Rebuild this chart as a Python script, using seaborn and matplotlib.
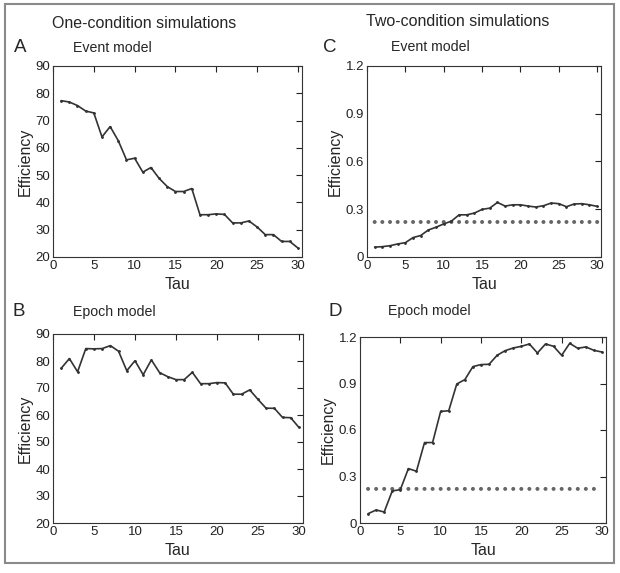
import matplotlib
matplotlib.use("Agg")
import matplotlib.pyplot as plt
import seaborn as sns
from matplotlib.patches import Rectangle

# Data
tau = list(range(1, 31))

event_one = [77.3, 76.8, 75.5, 73.5, 72.8, 64.0, 67.8, 62.6, 55.6, 56.2,
             51.1, 52.8, 48.8, 45.8, 44.0, 44.0, 45.1, 35.5, 35.5, 35.8,
             35.6, 32.5, 32.5, 33.2, 31.0, 28.2, 28.2, 25.7, 25.7, 23.3]

epoch_one = [77.3, 80.9, 76.0, 84.6, 84.5, 84.6, 85.7, 83.6, 76.4, 80.1,
             74.9, 80.4, 75.7, 74.2, 73.1, 73.1, 75.8, 71.6, 71.6, 72.0,
             71.9, 67.7, 67.7, 69.3, 65.8, 62.5, 62.5, 59.1, 59.0, 55.4]

event_two = [0.062, 0.065, 0.071, 0.082, 0.090, 0.122, 0.135, 0.170, 0.187, 0.208,
             0.225, 0.265, 0.265, 0.276, 0.299, 0.307, 0.343, 0.320, 0.328, 0.328,
             0.320, 0.314, 0.322, 0.339, 0.335, 0.316, 0.333, 0.335, 0.328, 0.318]

epoch_two = [0.060, 0.084, 0.071, 0.207, 0.215, 0.351, 0.334, 0.519, 0.519, 0.720,
             0.724, 0.897, 0.925, 1.009, 1.022, 1.024, 1.082, 1.112, 1.129, 1.140,
             1.155, 1.097, 1.155, 1.140, 1.082, 1.159, 1.127, 1.136, 1.114, 1.103]

# chance level (dotted reference)
chance_tau_c = list(range(1, 31))
chance_c = [0.22] * 30
chance_tau_d = list(range(1, 30))
chance_d = [0.22] * 29

x_ticks = [0, 5, 10, 15, 20, 25, 30]
y_ticks_one = [20, 30, 40, 50, 60, 70, 80, 90]
y_ticks_two = [0, 0.3, 0.6, 0.9, 1.2]
y_labels_two = ["0", "0.3", "0.6", "0.9", "1.2"]

sns.set_style("white")
plt.rcParams['font.family'] = ['Liberation Sans', 'DejaVu Sans']

W, H = 620, 573
fig = plt.figure(figsize=(W / 100, H / 100), dpi=100)


def rect(l, t, r, b):
    return [l / W, 1 - b / H, (r - l) / W, (b - t) / H]


ax_a = fig.add_axes(rect(53, 66, 302, 257))
ax_b = fig.add_axes(rect(53, 334, 303, 523))
ax_c = fig.add_axes(rect(367, 66, 601, 257))
ax_d = fig.add_axes(rect(360, 337, 606, 523))

line_kw = dict(color='#333333', linewidth=1.2, marker='.', markersize=2.5,
               markeredgecolor='#333333')

sns.lineplot(x=tau, y=event_one, ax=ax_a, **line_kw)
sns.lineplot(x=tau, y=epoch_one, ax=ax_b, **line_kw)
sns.lineplot(x=tau, y=event_two, ax=ax_c, **line_kw)
sns.lineplot(x=tau, y=epoch_two, ax=ax_d, **line_kw)

sns.scatterplot(x=chance_tau_c, y=chance_c, ax=ax_c, s=8, color='#666666', edgecolor='none')
sns.scatterplot(x=chance_tau_d, y=chance_d, ax=ax_d, s=8, color='#666666', edgecolor='none')

for ax in (ax_a, ax_b, ax_c, ax_d):
    ax.set_xlim(0, 30.5)
    ax.set_xticks(x_ticks)
    ax.set_xticklabels([str(t) for t in x_ticks])
    ax.tick_params(direction='in', length=4, width=0.8, top=True, right=True,
                   labelsize=9.5, pad=2, colors='#222222')
    for s in ax.spines.values():
        s.set_visible(True)
        s.set_color('#333333')
        s.set_linewidth(0.8)
    ax.set_xlabel("Tau", fontsize=11.5, labelpad=4)
    ax.set_ylabel("Efficiency", fontsize=11.5, labelpad=2)

for ax in (ax_a, ax_b):
    ax.set_ylim(20, 90)
    ax.set_yticks(y_ticks_one)
    ax.set_yticklabels([str(t) for t in y_ticks_one])

for ax in (ax_c, ax_d):
    ax.set_ylim(0, 1.2)
    ax.set_yticks(y_ticks_two)
    ax.set_yticklabels(y_labels_two)

# Column headers, panel letters and subtitles
fig.text(144 / W, 1 - 23 / H, "One-condition simulations", ha='center', va='center', fontsize=11.5)
fig.text(458 / W, 1 - 22 / H, "Two-condition simulations", ha='center', va='center', fontsize=11.5)

fig.text(20 / W, 1 - 48 / H, "A", ha='center', va='center', fontsize=13.5)
fig.text(73 / W, 1 - 48 / H, "Event model", ha='left', va='center', fontsize=10.2)
fig.text(330 / W, 1 - 47 / H, "C", ha='center', va='center', fontsize=13.5)
fig.text(391 / W, 1 - 47 / H, "Event model", ha='left', va='center', fontsize=10.2)
fig.text(19 / W, 1 - 312 / H, "B", ha='center', va='center', fontsize=13.5)
fig.text(73 / W, 1 - 312 / H, "Epoch model", ha='left', va='center', fontsize=10.2)
fig.text(335 / W, 1 - 311 / H, "D", ha='center', va='center', fontsize=13.5)
fig.text(388 / W, 1 - 311 / H, "Epoch model", ha='left', va='center', fontsize=10.2)

# outer frame
fig.patches.append(Rectangle((5 / W, 1 - 563 / H), 609 / W, 559 / H, transform=fig.transFigure,
                             fill=False, edgecolor='#8a8a8a', linewidth=1.5))

fig.savefig("out.png", dpi=100)
